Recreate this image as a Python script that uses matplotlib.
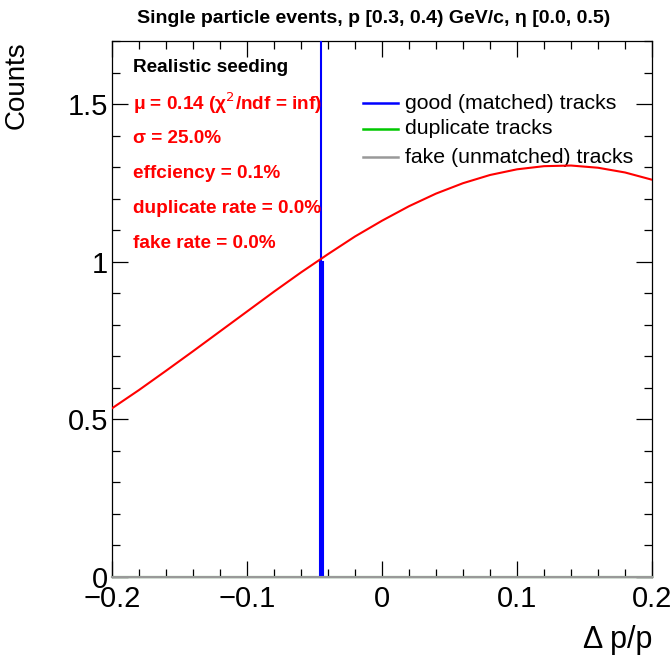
import matplotlib
matplotlib.use("Agg")
import matplotlib.pyplot as plt
from matplotlib.ticker import MultipleLocator, FixedFormatter, FixedLocator

plt.rcParams['font.family'] = ['Liberation Sans', 'DejaVu Sans']

# fitted curve
fit_x = [-0.20, -0.18, -0.16, -0.14, -0.12, -0.10, -0.08, -0.06, -0.04, -0.02, 0.00,
         0.02, 0.04, 0.06, 0.08, 0.10, 0.12, 0.14, 0.16, 0.18, 0.20]
fit_y = [0.535, 0.593, 0.654, 0.716, 0.779, 0.842, 0.905, 0.966, 1.024, 1.080, 1.130,
         1.176, 1.216, 1.249, 1.275, 1.293, 1.303, 1.305, 1.298, 1.283, 1.260]

# histograms
good_x = [-0.045]
good_y = [1.0]
good_err = [1.0]
dup_x = [-0.2, 0.2]
dup_y = [0.0, 0.0]
fake_x = [-0.2, 0.2]
fake_y = [0.0, 0.0]

legend_labels = ["good (matched) tracks", "duplicate tracks", "fake (unmatched) tracks"]
legend_colors = ["#0000ff", "#00c800", "#999999"]

info_lines = ["\u03bc = 0.14 (\u03c7$^2$/ndf = inf)", "\u03c3 = 25.0%", "effciency = 0.1%",
              "duplicate rate = 0.0%", "fake rate = 0.0%"]

fig = plt.figure(figsize=(6.71, 6.58), dpi=100)
ax = fig.add_axes([0.1669, 0.1231, 0.8048, 0.8146])

ax.plot(dup_x, dup_y, color="#00c800", lw=1.5, clip_on=False, zorder=3)
ax.plot(fake_x, fake_y, color="#999999", lw=1.5, clip_on=False, zorder=4)
ax.bar(good_x, good_y, width=0.002, color="#0000ff", edgecolor="#0000ff", lw=1.5, zorder=3)
ax.errorbar(good_x, good_y, yerr=good_err, fmt="none", ecolor="#0000ff", elinewidth=1.5,
            capsize=0, zorder=3)
ax.plot(fit_x, fit_y, color="#ff0000", lw=1.5, zorder=5)

ax.set_xlim(-0.2, 0.2)
ax.set_ylim(0, 1.7)

ax.xaxis.set_major_locator(FixedLocator([-0.2, -0.1, 0, 0.1, 0.2]))
ax.xaxis.set_major_formatter(FixedFormatter(["\u22120.2", "\u22120.1", "0", "0.1", "0.2"]))
ax.xaxis.set_minor_locator(MultipleLocator(0.02))
ax.yaxis.set_major_locator(FixedLocator([0, 0.5, 1, 1.5]))
ax.yaxis.set_major_formatter(FixedFormatter(["0", "0.5", "1", "1.5"]))
ax.yaxis.set_minor_locator(MultipleLocator(0.1))
ax.tick_params(which="both", direction="in", top=True, right=True, labelsize=21, width=0.9)
ax.tick_params(which="major", length=11.5, pad=6)
ax.tick_params(which="minor", length=5.5)
ax.tick_params(axis="y", pad=3)
for s in ax.spines.values():
    s.set_linewidth(0.9)

ax.set_ylabel("Counts", fontsize=20, loc="top")
ax.yaxis.set_label_coords(-0.152, 1.0)
ax.set_xlabel("\u0394 p/p", fontsize=22, loc="right")
ax.xaxis.set_label_coords(1.0, -0.09)

fig.text(0.557, 0.972, "Single particle events, p [0.3, 0.4) GeV/c, \u03b7 [0.0, 0.5)",
         ha="center", va="center", fontsize=14, fontweight="bold")

ax.text(0.039, 0.950, "Realistic seeding", transform=ax.transAxes, ha="left", va="center",
        fontsize=13.7, fontweight="bold", color="black")
for i, t in enumerate(info_lines):
    ax.text(0.039, 0.884 - i * 0.0655, t, transform=ax.transAxes, ha="left", va="center",
            fontsize=13.7, fontweight="bold", color="#ff0000", zorder=6)

for i, (lab, col) in enumerate(zip(legend_labels, legend_colors)):
    yy = [0.884, 0.836, 0.783][i]
    ax.plot([0.465, 0.530], [yy, yy], transform=ax.transAxes, color=col, lw=1.8)
    ax.text(0.543, yy, lab, transform=ax.transAxes, ha="left", va="center", fontsize=15.3)

fig.savefig("out.png", dpi=100)
